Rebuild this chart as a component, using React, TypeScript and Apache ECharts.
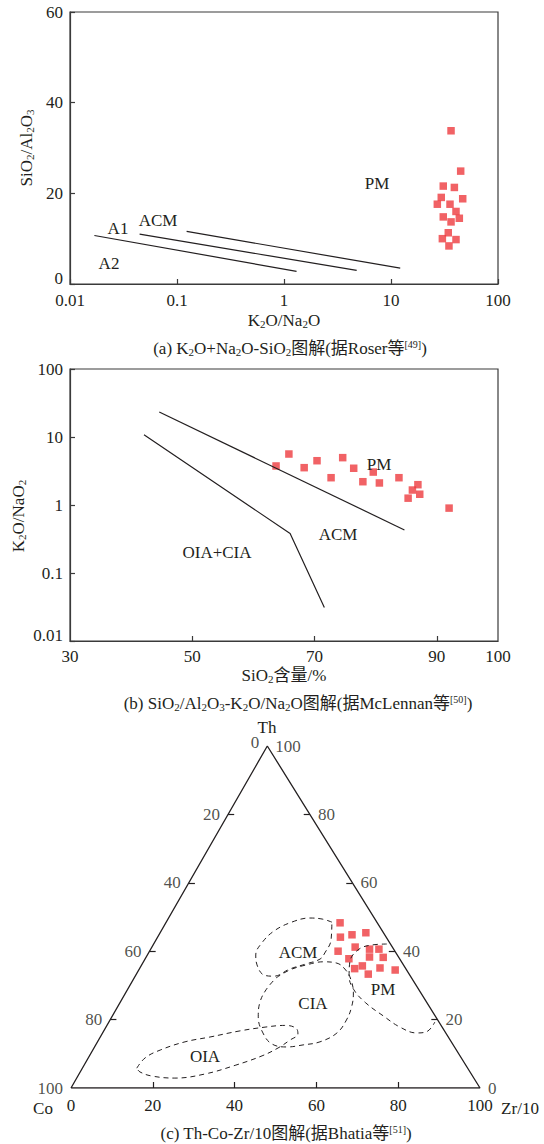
import React, { useEffect, useRef } from 'react';
import * as echarts from 'echarts';

const FONT = 'Liberation Serif, DejaVu Serif, Noto Sans CJK SC, serif';
const INK = '#231f20';
const RED = '#ee3b3e';
const FS = 17;

// ---------- Panel (a): K2O/Na2O (log) vs SiO2/Al2O3 ----------
const aK2ONa2O = [36.4, 44.8, 30.8, 39.1, 29.5, 46.8, 27.1, 35.6, 40.5, 30.8, 36.4, 43.5, 34.3, 30.2, 40.5, 34.8];
const aSiO2Al2O3 = [33.8, 24.9, 21.6, 21.3, 19.1, 18.8, 17.6, 17.6, 16.0, 14.8, 13.7, 14.5, 11.3, 10.0, 9.8, 8.4];
const aLineA2A1 = [[0.0169, 10.7], [1.31, 2.8]];
const aLineA1ACM = [[0.0447, 11.0], [4.78, 3.0]];
const aLineACMPM = [[0.123, 11.6], [12.2, 3.5]];

// ---------- Panel (b): SiO2 vs K2O/Na2O (log) ----------
const bSiO2 = [63.7, 65.8, 68.3, 70.4, 72.7, 74.6, 76.4, 77.9, 79.6, 80.6, 83.8, 86.9, 86.0, 87.2, 85.3, 92.0];
const bK2ONa2O = [3.75, 5.62, 3.54, 4.48, 2.52, 4.97, 3.47, 2.2, 3.05, 2.11, 2.52, 1.99, 1.66, 1.44, 1.26, 0.9];
const bLineACMPM = [[44.6, 23.3], [84.7, 0.43]];
const bLineOIACIA = [[42.1, 10.8], [66.0, 0.38], [71.6, 0.031]];
const bXLabels = [30, 50, 70, 90, 100];
const bXTicks = [50, 70, 90];

// ---------- Panel (c): Th-Co-Zr/10 ternary ----------
const cTh = [48.3, 44.1, 44.8, 45.4, 40.0, 41.2, 40.6, 40.6, 37.8, 38.3, 38.2, 34.9, 35.7, 33.3, 35.1, 34.5];
const cZr = [42.6, 44.7, 47.2, 50.3, 46.1, 49.7, 53.5, 55.8, 49.8, 54.6, 58.0, 52.6, 54.1, 56.7, 58.7, 62.7];
// fields as [Zr/10 %, Th %]
const fieldACM = [[40.5, 48.5], [37.7, 49.4], [34.5, 49.7], [30.7, 48.5], [27.6, 45.9], [26.3, 42.4], [26.5, 38.9], [28.2, 36.0], [31.4, 33.0], [33.9, 32.7], [36.8, 34.8], [40.1, 36.3], [42.8, 37.7], [43.1, 39.5], [42.8, 43.3]];
const fieldCIA = [[34.7, 32.2], [36.9, 34.5], [40.3, 36.0], [44.0, 36.9], [47.5, 36.5], [50.6, 34.5], [53.3, 31.6], [55.7, 27.8], [57.2, 23.8], [57.8, 19.9], [57.3, 16.1], [54.4, 13.5], [50.7, 12.6], [47.0, 12.0], [42.9, 12.9], [39.2, 16.1], [35.8, 20.8], [34.2, 24.9], [33.9, 28.7]];
const fieldPM = [[57.0, 42.1], [53.4, 41.8], [50.8, 40.4], [50.5, 36.8], [52.3, 32.7], [55.4, 28.7], [60.1, 24.9], [66.2, 21.1], [71.9, 17.8], [76.8, 16.1], [79.1, 16.5], [79.7, 19.3]];
const fieldOIA = [[13.3, 5.8], [13.9, 8.8], [16.5, 11.1], [21.4, 13.5], [26.8, 14.9], [33.3, 16.7], [38.9, 17.8], [43.5, 18.3], [46.6, 17.5], [47.9, 15.8], [46.8, 14.0], [45.0, 11.7], [42.2, 9.4], [37.1, 6.7], [30.8, 4.1], [24.0, 2.9], [18.1, 3.5], [14.6, 4.7]];
const cCoLabels = [0, 20, 40, 60, 80, 100];
const cThLabels = [100, 80, 60, 40, 20, 0];
const cInnerTicks = [20, 40, 60, 80];

const APEX = 0.48; // apex position along the base
const toXY = (zr: number, th: number) => [zr + APEX * th, th];
const closeLoop = (pts: number[][]) => [...pts, pts[0]];

const sub = { fontSize: 11, lineHeight: 8, verticalAlign: 'bottom', fill: INK, fontFamily: FONT };
const sup = { fontSize: 10, lineHeight: 10, verticalAlign: 'top', fill: INK, fontFamily: FONT };

function txt(text: string, x: number, y: number, extra: any = {}) {
  return {
    type: 'text',
    x,
    y,
    rotation: extra.rotation || 0,
    z: 100,
    style: {
      text,
      fill: INK,
      fontSize: extra.fontSize || FS,
      fontFamily: FONT,
      align: 'center',
      verticalAlign: 'middle',
      lineHeight: 18,
      rich: { s: sub, p: sup },
    },
  };
}

const axisLineStyle = { color: '#3a3a3a', width: 1.2 };
const labelStyle = { color: INK, fontFamily: FONT, fontSize: FS };
const fmtLog = (v: number) => String(Number(v.toPrecision(2)));

export default function App() {
  const ref = useRef<HTMLDivElement>(null);
  useEffect(() => {
    if (!ref.current) return;
    const chart = echarts.init(ref.current, null, { renderer: 'svg' });

    const tk = 1.5; // tick length in x units
    const tky = 1.75; // tick length in y units
    const tickSegs: any[] = [];
    cInnerTicks.forEach((th) => {
      const l = toXY(0, th);
      tickSegs.push([{ coord: l }, { coord: [l[0] + tk, th] }]);
      const r = toXY(100 - th, th);
      tickSegs.push([{ coord: r }, { coord: [r[0] - tk, th] }]);
    });
    cInnerTicks.forEach((zr) => {
      tickSegs.push([{ coord: [zr, 0] }, { coord: [zr, tky] }]);
    });

    const dashed = (pts: number[][], closed: boolean) => ({
      type: 'line',
      xAxisIndex: 2,
      yAxisIndex: 2,
      data: (closed ? closeLoop(pts) : pts).map((p) => toXY(p[0], p[1])),
      smooth: 0.4,
      symbol: 'none',
      lineStyle: { color: INK, width: 1, type: [5, 4] },
      silent: true,
    });

    const solid = (data: number[][], xi: number) => ({
      type: 'line',
      xAxisIndex: xi,
      yAxisIndex: xi,
      data,
      symbol: 'none',
      lineStyle: { color: INK, width: 1.2 },
      silent: true,
    });

    const option: any = {
      animation: false,
      backgroundColor: '#fff',
      textStyle: { fontFamily: FONT, fontSize: FS },
      grid: [
        { left: 70, top: 12, width: 428, height: 272, show: true, borderColor: '#3a3a3a', borderWidth: 1.2 },
        { left: 70, top: 369, width: 428, height: 272, show: true, borderColor: '#3a3a3a', borderWidth: 1.2 },
        { left: 71, top: 746, width: 409, height: 342, show: false },
      ],
      xAxis: [
        {
          gridIndex: 0, type: 'log', logBase: 10, min: 0.01, max: 100,
          axisLine: { show: true, lineStyle: axisLineStyle },
          axisTick: { show: true, inside: true, length: 5, lineStyle: axisLineStyle },
          minorTick: { show: false },
          splitLine: { show: false },
          axisLabel: { ...labelStyle, margin: 8, formatter: fmtLog },
        },
        {
          gridIndex: 1, type: 'value', min: 30, max: 100,
          axisLine: { show: true, lineStyle: axisLineStyle },
          axisTick: { show: true, inside: true, length: 5, lineStyle: axisLineStyle, customValues: bXTicks },
          splitLine: { show: false },
          axisLabel: { ...labelStyle, margin: 7, customValues: bXLabels, showMinLabel: true, showMaxLabel: true },
        },
        {
          gridIndex: 2, type: 'value', min: 0, max: 100, interval: 20,
          axisLine: { show: false },
          axisTick: { show: false },
          splitLine: { show: false },
          axisLabel: { ...labelStyle, margin: 9, showMinLabel: true, showMaxLabel: true },
        },
      ],
      yAxis: [
        {
          gridIndex: 0, type: 'value', min: 0, max: 60, interval: 20,
          axisLine: { show: true, lineStyle: axisLineStyle },
          axisTick: { show: true, inside: true, length: 5, lineStyle: axisLineStyle },
          splitLine: { show: false },
          axisLabel: { ...labelStyle, margin: 7, verticalAlignMinLabel: 'bottom', lineHeight: 12 },
        },
        {
          gridIndex: 1, type: 'log', logBase: 10, min: 0.01, max: 100,
          axisLine: { show: true, lineStyle: axisLineStyle },
          axisTick: { show: true, inside: true, length: 5, lineStyle: axisLineStyle },
          minorTick: { show: false },
          splitLine: { show: false },
          axisLabel: { ...labelStyle, margin: 7, formatter: fmtLog, verticalAlignMinLabel: 'bottom', lineHeight: 12 },
        },
        { gridIndex: 2, type: 'value', min: 0, max: 100, show: false },
      ],
      series: [
        // panel a
        solid(aLineA2A1, 0),
        solid(aLineA1ACM, 0),
        solid(aLineACMPM, 0),
        {
          type: 'scatter', xAxisIndex: 0, yAxisIndex: 0, symbol: 'rect', symbolSize: 7.5,
          itemStyle: { color: RED },
          data: aK2ONa2O.map((x, i) => [x, aSiO2Al2O3[i]]),
        },
        // panel b
        solid(bLineACMPM, 1),
        solid(bLineOIACIA, 1),
        {
          type: 'scatter', xAxisIndex: 1, yAxisIndex: 1, symbol: 'rect', symbolSize: 7.5,
          itemStyle: { color: RED },
          data: bSiO2.map((x, i) => [x, bK2ONa2O[i]]),
        },
        // panel c: triangle + ticks
        {
          type: 'line', xAxisIndex: 2, yAxisIndex: 2, symbol: 'none', silent: true,
          data: [toXY(0, 0), toXY(0, 100), toXY(100, 0), toXY(0, 0)],
          lineStyle: { color: INK, width: 1.3 },
          markLine: {
            silent: true, symbol: ['none', 'none'], label: { show: false },
            lineStyle: { color: INK, width: 1.2, type: 'solid' },
            data: tickSegs,
          },
        },
        dashed(fieldACM, true),
        dashed(fieldCIA, true),
        dashed(fieldPM, false),
        dashed(fieldOIA, true),
        {
          type: 'scatter', xAxisIndex: 2, yAxisIndex: 2, symbol: 'rect', symbolSize: 7.5,
          itemStyle: { color: RED },
          data: cTh.map((th, i) => toXY(cZr[i], th)),
        },
        // left edge labels (Co)
        {
          type: 'scatter', xAxisIndex: 2, yAxisIndex: 2, symbolSize: 0.1, silent: true,
          itemStyle: { color: 'rgba(0,0,0,0)' },
          data: cCoLabels.map((co) => ({
            value: [...toXY(0, 100 - co), co],
            label: co === 0 ? { offset: [0, -4] } : {},
          })),
          label: { show: true, position: 'left', distance: 8, ...labelStyle, formatter: (p: any) => String(p.value[2]) },
        },
        // right edge labels (Th)
        {
          type: 'scatter', xAxisIndex: 2, yAxisIndex: 2, symbolSize: 0.1, silent: true,
          itemStyle: { color: 'rgba(0,0,0,0)' },
          data: cThLabels.map((th) => [...toXY(100 - th, th), th]),
          label: { show: true, position: 'right', distance: 8, ...labelStyle, formatter: (p: any) => String(p.value[2]) },
        },
      ],
      graphic: [
        // panel a
        txt('SiO{s|2}/Al{s|2}O{s|3}', 26, 148, { rotation: Math.PI / 2 }),
        txt('K{s|2}O/Na{s|2}O', 284, 320),
        txt('(a) K{s|2}O+Na{s|2}O-SiO{s|2}图解(据Roser等{p|[49]})', 290, 348),
        txt('A1', 118, 228),
        txt('ACM', 158, 220),
        txt('A2', 109, 263),
        txt('PM', 377, 183),
        // panel b
        txt('K{s|2}O/NaO{s|2}', 18, 516, { rotation: Math.PI / 2 }),
        txt('SiO{s|2}含量/%', 284, 675),
        txt('(b) SiO{s|2}/Al{s|2}O{s|3}-K{s|2}O/Na{s|2}O图解(据McLennan等{p|[50]})', 298, 703),
        txt('PM', 379, 464),
        txt('ACM', 338, 534),
        txt('OIA+CIA', 217, 552),
        // panel c
        txt('Th', 267, 727),
        txt('Co', 43, 1108),
        txt('Zr/10', 520, 1108),
        txt('(c) Th-Co-Zr/10图解(据Bhatia等{p|[51]})', 286, 1133),
        txt('ACM', 298, 952),
        txt('CIA', 313, 1003),
        txt('PM', 383, 989),
        txt('OIA', 205, 1056),
      ],
    };
    chart.setOption(option);
    return () => chart.dispose();
  }, []);
  return (
    <div
      ref={ref}
      style={{ position: 'absolute', left: 0, top: 0, width: 544, height: 1144, background: '#fff' }}
    />
  );
}
